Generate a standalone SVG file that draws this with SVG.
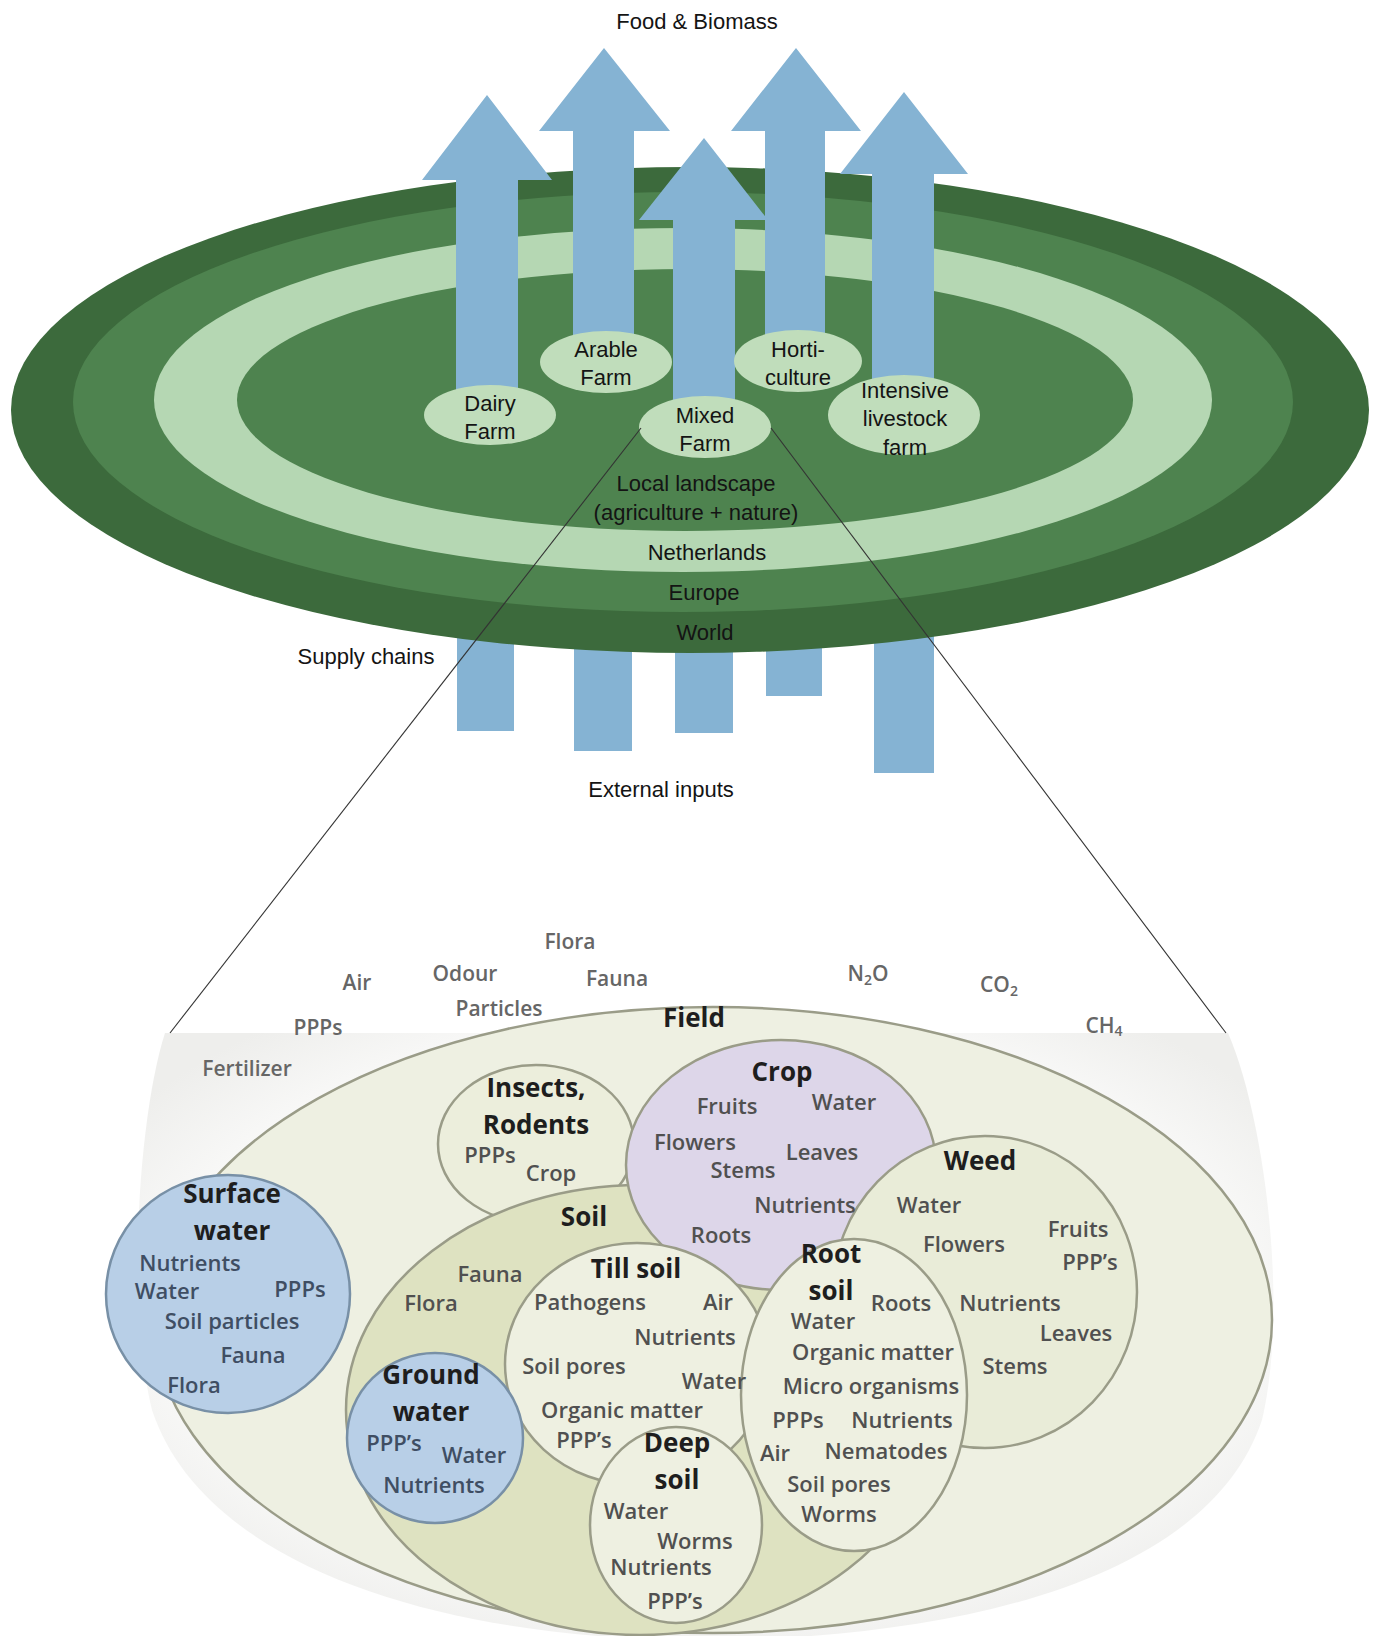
<svg xmlns="http://www.w3.org/2000/svg" width="1378" height="1636" viewBox="0 0 1378 1636">
<defs>
<style>
.lbl{font-family:"Liberation Sans",Arial,sans-serif;font-size:22px;fill:#141414;text-anchor:middle}
.arrow{fill:#85b3d3}
.farm{fill:#c0ddbb}
.zl{stroke:#333;stroke-width:1.1;fill:none}
.h{font-family:"Open Sans","Liberation Sans",sans-serif;font-weight:700;font-size:26px;fill:#1e1e1e;text-anchor:middle}
.i{font-family:"Open Sans","Liberation Sans",sans-serif;font-weight:600;font-size:22px;fill:#505050;text-anchor:middle}
.ib{font-family:"Open Sans","Liberation Sans",sans-serif;font-weight:600;font-size:22px;fill:#3f4e63;text-anchor:middle}
.o{font-family:"Open Sans","Liberation Sans",sans-serif;font-weight:600;font-size:21px;fill:#666;text-anchor:middle}
.c{stroke:#9a9c88;stroke-width:2.5}
.blue{fill:#b8cfe7;stroke:#7890a6;stroke-width:2.5}
.pale{fill:#eceedc}
</style>
<radialGradient id="bowl" cx="0.5" cy="0.45" r="0.6">
<stop offset="0" stop-color="#ffffff"/>
<stop offset="0.8" stop-color="#f8f8f7"/>
<stop offset="1" stop-color="#eeeeec"/>
</radialGradient>
</defs>
<rect width="1378" height="1636" fill="#fff"/>

<g id="input-bars">
<rect class="arrow" x="457" y="560" width="57" height="171"/>
<rect class="arrow" x="574" y="560" width="58" height="191"/>
<rect class="arrow" x="675" y="560" width="58" height="173"/>
<rect class="arrow" x="766" y="560" width="56" height="136"/>
<rect class="arrow" x="874" y="560" width="60" height="213"/>
</g>

<g id="disc">
<ellipse id="world" cx="690" cy="410" rx="679" ry="243" fill="#3c6a3c"/>
<ellipse id="europe" cx="683" cy="402" rx="610" ry="210" fill="#4e834f"/>
<ellipse id="netherlands" cx="683" cy="400" rx="529" ry="172" fill="#b5d7b3"/>
<ellipse id="local-landscape" cx="685" cy="400" rx="448" ry="131" fill="#4e834f"/>
<text class="lbl" x="696" y="491">Local landscape</text>
<text class="lbl" x="696" y="520">(agriculture + nature)</text>
<text class="lbl" x="707" y="560">Netherlands</text>
<text class="lbl" x="704" y="600">Europe</text>
<text class="lbl" x="705" y="640">World</text>
</g>

<g id="output-arrows">
<polygon class="arrow" points="456,400 456,180 422,180 487,95 552,180 518,180 518,400"/>
<polygon class="arrow" points="573,345 573,131 539,131 604,48 670,131 634,131 634,345"/>
<polygon class="arrow" points="765,345 765,131 731,131 796,48 861,131 825,131 825,345"/>
<polygon class="arrow" points="872,385 872,174 840,174 904,92 968,174 934,174 934,385"/>
<polygon class="arrow" points="673,405 673,220 639,220 704,138 768,220 735,220 735,405"/>
</g>

<g id="farm-arable"><ellipse class="farm" cx="606" cy="362" rx="66" ry="31"/><text class="lbl" x="606" y="357">Arable</text><text class="lbl" x="606" y="385">Farm</text></g>
<g id="farm-horticulture"><ellipse class="farm" cx="798" cy="361" rx="64" ry="31"/><text class="lbl" x="798" y="357">Horti-</text><text class="lbl" x="798" y="385">culture</text></g>
<g id="farm-dairy"><ellipse class="farm" cx="490" cy="415" rx="66" ry="30"/><text class="lbl" x="490" y="411">Dairy</text><text class="lbl" x="490" y="439">Farm</text></g>
<g id="farm-mixed"><ellipse class="farm" cx="705" cy="427" rx="66" ry="31"/><text class="lbl" x="705" y="423">Mixed</text><text class="lbl" x="705" y="451">Farm</text></g>
<g id="farm-intensive"><ellipse class="farm" cx="904" cy="415" rx="76" ry="40"/><text class="lbl" x="905" y="398">Intensive</text><text class="lbl" x="905" y="426">livestock</text><text class="lbl" x="905" y="455">farm</text></g>

<g id="labels-top">
<text class="lbl" x="697" y="29">Food &amp; Biomass</text>
<text class="lbl" x="366" y="664">Supply chains</text>
<text class="lbl" x="661" y="797">External inputs</text>
</g>

<g id="field-view">
<path d="M165,1033 L1228,1033 C1262,1110 1290,1300 1262,1420 C1205,1590 930,1640 700,1640 C450,1640 205,1570 152,1410 C125,1300 140,1110 165,1033 Z" fill="url(#bowl)"/>
<g id="field"><ellipse class="c" cx="713" cy="1320" rx="559" ry="313" fill="#eef0e2"/></g>
<g id="surface-water"><ellipse class="blue" cx="228" cy="1294" rx="122" ry="119"/></g>
<g id="insects"><ellipse class="c pale" cx="536" cy="1144" rx="98" ry="79"/></g>
<g id="soil"><ellipse class="c" cx="640" cy="1410" rx="294" ry="225" fill="#dee2c1"/></g>
<g id="crop"><ellipse class="c" cx="781" cy="1165" rx="155" ry="125" fill="#ddd6e9"/></g>
<g id="weed"><ellipse class="c" cx="985" cy="1292" rx="152" ry="156" fill="#e9ecd8"/></g>
<g id="till-soil"><ellipse class="c" cx="637" cy="1364" rx="132" ry="121" fill="#eef0e1"/></g>
<g id="root-soil"><ellipse class="c" cx="854" cy="1395" rx="113" ry="156" fill="#eef0e1"/></g>
<g id="deep-soil"><ellipse class="c" cx="676" cy="1525" rx="86" ry="98" fill="#eef0e1"/></g>
<g id="ground-water"><ellipse class="blue" cx="435" cy="1438" rx="88" ry="85"/></g>

<g id="outside-labels">
<text class="o" x="570" y="949">Flora</text>
<text class="o" x="357" y="990">Air</text>
<text class="o" x="465" y="981">Odour</text>
<text class="o" x="617" y="986">Fauna</text>
<text class="o" x="499" y="1016">Particles</text>
<text class="o" x="318" y="1035">PPPs</text>
<text class="o" x="247" y="1076">Fertilizer</text>
<text class="o" x="868" y="981">N<tspan font-size="14" dy="4">2</tspan><tspan dy="-4">O</tspan></text>
<text class="o" x="999" y="992">CO<tspan font-size="14" dy="4">2</tspan></text>
<text class="o" x="1104" y="1033">CH<tspan font-size="14" dy="3">4</tspan></text>
</g>
<text class="h" x="694" y="1027">Field</text>

<text class="h" x="232" y="1203">Surface</text>
<text class="h" x="232" y="1240">water</text>
<text class="ib" x="190" y="1271">Nutrients</text>
<text class="ib" x="167" y="1299">Water</text>
<text class="ib" x="300" y="1297">PPPs</text>
<text class="ib" x="232" y="1329">Soil particles</text>
<text class="ib" x="253" y="1363">Fauna</text>
<text class="ib" x="194" y="1393">Flora</text>

<text class="h" x="536" y="1097">Insects,</text>
<text class="h" x="536" y="1134">Rodents</text>
<text class="i" x="490" y="1163">PPPs</text>
<text class="i" x="551" y="1181">Crop</text>

<text class="h" x="782" y="1081">Crop</text>
<text class="i" x="727" y="1114">Fruits</text>
<text class="i" x="844" y="1110">Water</text>
<text class="i" x="695" y="1150">Flowers</text>
<text class="i" x="822" y="1160">Leaves</text>
<text class="i" x="743" y="1178">Stems</text>
<text class="i" x="805" y="1213">Nutrients</text>
<text class="i" x="721" y="1243">Roots</text>

<text class="h" x="980" y="1170">Weed</text>
<text class="i" x="929" y="1213">Water</text>
<text class="i" x="964" y="1252">Flowers</text>
<text class="i" x="1078" y="1237">Fruits</text>
<text class="i" x="1090" y="1270">PPP’s</text>
<text class="i" x="1010" y="1311">Nutrients</text>
<text class="i" x="1076" y="1341">Leaves</text>
<text class="i" x="1015" y="1374">Stems</text>

<text class="h" x="584" y="1226">Soil</text>
<text class="i" x="490" y="1282">Fauna</text>
<text class="i" x="431" y="1311">Flora</text>

<text class="h" x="636" y="1278">Till soil</text>
<text class="i" x="590" y="1310">Pathogens</text>
<text class="i" x="718" y="1310">Air</text>
<text class="i" x="685" y="1345">Nutrients</text>
<text class="i" x="574" y="1374">Soil pores</text>
<text class="i" x="714" y="1389">Water</text>
<text class="i" x="622" y="1418">Organic matter</text>
<text class="i" x="584" y="1448">PPP’s</text>

<text class="h" x="831" y="1263">Root</text>
<text class="h" x="831" y="1300">soil</text>
<text class="i" x="901" y="1311">Roots</text>
<text class="i" x="823" y="1329">Water</text>
<text class="i" x="873" y="1360">Organic matter</text>
<text class="i" x="871" y="1394">Micro organisms</text>
<text class="i" x="798" y="1428">PPPs</text>
<text class="i" x="902" y="1428">Nutrients</text>
<text class="i" x="775" y="1461">Air</text>
<text class="i" x="886" y="1459">Nematodes</text>
<text class="i" x="839" y="1492">Soil pores</text>
<text class="i" x="839" y="1522">Worms</text>

<text class="h" x="677" y="1452">Deep</text>
<text class="h" x="677" y="1489">soil</text>
<text class="i" x="636" y="1519">Water</text>
<text class="i" x="695" y="1549">Worms</text>
<text class="i" x="661" y="1575">Nutrients</text>
<text class="i" x="675" y="1609">PPP’s</text>

<text class="h" x="431" y="1384">Ground</text>
<text class="h" x="431" y="1421">water</text>
<text class="ib" x="394" y="1451">PPP’s</text>
<text class="ib" x="474" y="1463">Water</text>
<text class="ib" x="434" y="1493">Nutrients</text>
</g>

<g id="connectors">
<line class="zl" x1="641" y1="428" x2="170" y2="1033"/>
<line class="zl" x1="771" y1="428" x2="1226" y2="1033"/>
</g>
</svg>
